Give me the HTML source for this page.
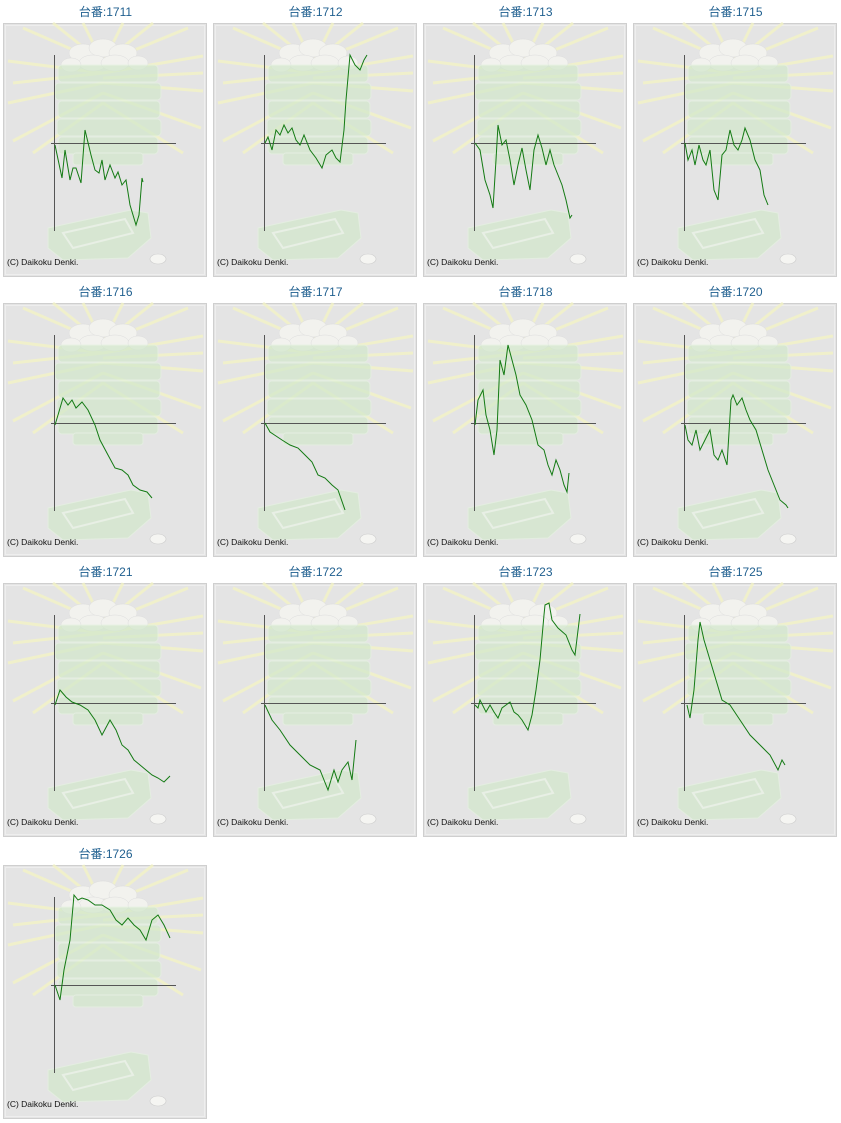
<!DOCTYPE html>
<html><head><meta charset="utf-8"><style>
body{margin:0;background:#fff;width:841px;height:1123px;position:relative;overflow:hidden;font-family:"Liberation Sans","Noto Sans CJK JP",sans-serif}
.t{position:absolute;width:205px;text-align:center;font-size:12px;color:#1f5f8f;line-height:14px}
svg.p{position:absolute;left:0;top:0}
</style></head><body>
<svg width="0" height="0" style="position:absolute">
<defs>
<symbol id="bg" overflow="visible">
<rect x="0.5" y="0.5" width="203" height="253" fill="#e4e4e4" stroke="#cfcfcf"/>
<rect x="2.5" y="2.5" width="199" height="249" fill="none" stroke="#eeeeee"/>
<g stroke="#f3f3c6" stroke-width="3" opacity="0.8">
<line x1="100" y1="40" x2="20" y2="5"/><line x1="100" y1="40" x2="50" y2="0"/><line x1="100" y1="40" x2="80" y2="0"/>
<line x1="100" y1="40" x2="120" y2="0"/><line x1="100" y1="40" x2="150" y2="0"/><line x1="100" y1="40" x2="185" y2="5"/>
<line x1="100" y1="50" x2="5" y2="38"/><line x1="100" y1="60" x2="5" y2="80"/><line x1="100" y1="70" x2="10" y2="118"/>
<line x1="100" y1="80" x2="30" y2="130"/><line x1="100" y1="50" x2="200" y2="33"/><line x1="100" y1="60" x2="200" y2="68"/>
<line x1="100" y1="70" x2="198" y2="105"/><line x1="100" y1="80" x2="180" y2="130"/><line x1="100" y1="50" x2="10" y2="60"/><line x1="100" y1="55" x2="200" y2="50"/>
</g>
<g fill="#f2f2ee" stroke="#ddd" stroke-width="0.5">
<ellipse cx="80" cy="30" rx="14" ry="9"/><ellipse cx="100" cy="25" rx="14" ry="9"/><ellipse cx="120" cy="30" rx="14" ry="9"/>
<ellipse cx="90" cy="40" rx="14" ry="8"/><ellipse cx="112" cy="40" rx="14" ry="8"/><ellipse cx="135" cy="40" rx="10" ry="7"/><ellipse cx="68" cy="42" rx="10" ry="7"/>
</g>
<g fill="#d2e8cb" stroke="#e4f2e0" opacity="0.7">
<rect x="55" y="42" width="100" height="17" rx="4"/><rect x="52" y="60" width="106" height="17" rx="4"/>
<rect x="55" y="78" width="102" height="17" rx="4"/><rect x="54" y="96" width="104" height="17" rx="4"/>
<rect x="55" y="114" width="100" height="17" rx="4"/><rect x="70" y="130" width="70" height="12" rx="3"/>
<path d="M45 205 L128 187 L145 190 L148 215 L125 235 L60 237 L45 225Z"/>
<path d="M60 210 L122 196 L130 210 L70 225Z" fill="none" stroke="#eaf5e6" stroke-width="2"/>
</g>
<ellipse cx="155" cy="236" rx="8" ry="5" fill="#f5f5f2" stroke="#ccc" stroke-width="0.6"/>
<g stroke="#555" stroke-width="1">
<line x1="51.5" y1="32" x2="51.5" y2="208"/><line x1="48" y1="120.5" x2="173" y2="120.5"/>
</g>
</symbol>
</defs></svg>

<div class="t" style="left:3px;top:5px">台番:1711</div>
<div class="t" style="left:213px;top:5px">台番:1712</div>
<div class="t" style="left:423px;top:5px">台番:1713</div>
<div class="t" style="left:633px;top:5px">台番:1715</div>
<div class="t" style="left:3px;top:285px">台番:1716</div>
<div class="t" style="left:213px;top:285px">台番:1717</div>
<div class="t" style="left:423px;top:285px">台番:1718</div>
<div class="t" style="left:633px;top:285px">台番:1720</div>
<div class="t" style="left:3px;top:565px">台番:1721</div>
<div class="t" style="left:213px;top:565px">台番:1722</div>
<div class="t" style="left:423px;top:565px">台番:1723</div>
<div class="t" style="left:633px;top:565px">台番:1725</div>
<div class="t" style="left:3px;top:847px">台番:1726</div>

<svg class="p" width="841" height="1123" viewBox="0 0 841 1123">
<g font-family="Liberation Sans, sans-serif" font-size="8.5" fill="#111">
<use href="#bg" x="3" y="23"/><use href="#bg" x="213" y="23"/><use href="#bg" x="423" y="23"/><use href="#bg" x="633" y="23"/>
<use href="#bg" x="3" y="303"/><use href="#bg" x="213" y="303"/><use href="#bg" x="423" y="303"/><use href="#bg" x="633" y="303"/>
<use href="#bg" x="3" y="583"/><use href="#bg" x="213" y="583"/><use href="#bg" x="423" y="583"/><use href="#bg" x="633" y="583"/>
<use href="#bg" x="3" y="865"/>
<text x="7" y="265">(C) Daikoku Denki.</text><text x="217" y="265">(C) Daikoku Denki.</text><text x="427" y="265">(C) Daikoku Denki.</text><text x="637" y="265">(C) Daikoku Denki.</text>
<text x="7" y="545">(C) Daikoku Denki.</text><text x="217" y="545">(C) Daikoku Denki.</text><text x="427" y="545">(C) Daikoku Denki.</text><text x="637" y="545">(C) Daikoku Denki.</text>
<text x="7" y="825">(C) Daikoku Denki.</text><text x="217" y="825">(C) Daikoku Denki.</text><text x="427" y="825">(C) Daikoku Denki.</text><text x="637" y="825">(C) Daikoku Denki.</text>
<text x="7" y="1107">(C) Daikoku Denki.</text>
</g>
<g fill="none" stroke="#137a13" stroke-width="1">
<polyline points="55,145 62,178 65,150 70,180 73,168 76,168 81,183 85,130 91,155 95,170 99,173 102,160 105,180 110,165 115,178 118,172 122,185 126,180 130,205 136,225 139,215 142,178 143,182"/>
<polyline points="265,143 268,137 272,150 276,130 280,135 284,125 288,133 292,128 296,140 300,145 304,135 310,150 316,158 322,168 326,155 332,150 336,158 340,162 344,130 346,100 350,55 355,65 360,70 364,60 367,55"/>
<polyline points="475,143 480,150 485,180 490,195 493,208 496,160 498,125 502,145 506,140 510,160 514,185 518,165 522,148 526,170 530,190 534,150 538,135 542,148 546,165 550,150 554,165 558,175 562,185 566,200 570,218 572,215"/>
<polyline points="685,143 688,160 692,150 695,165 699,145 703,160 706,165 710,150 714,190 718,200 722,155 726,150 730,130 734,145 738,150 742,140 745,128 750,140 755,160 760,170 764,195 768,205"/>
<polyline points="55,425 58,415 63,398 68,405 72,400 76,408 82,402 88,410 95,425 100,440 108,455 115,468 122,470 128,475 133,485 140,490 147,492 152,498"/>
<polyline points="265,423 270,432 276,436 282,440 290,445 298,448 306,456 312,462 318,475 325,478 332,485 338,490 345,510"/>
<polyline points="475,425 478,400 483,390 486,415 490,430 494,455 497,430 500,360 504,375 508,345 512,360 516,375 520,395 526,405 532,420 538,445 544,450 548,465 552,475 556,460 560,470 564,485 567,492 569,473"/>
<polyline points="685,425 688,440 692,445 696,430 700,450 705,440 710,430 714,455 718,460 722,450 727,465 731,400 733,395 737,405 742,398 746,410 750,420 756,430 762,450 768,470 774,485 780,500 786,505 788,508"/>
<polyline points="55,705 60,690 66,697 72,702 80,705 88,710 95,720 102,735 110,720 116,730 122,745 128,750 134,760 140,765 146,770 152,775 158,778 164,782 170,776"/>
<polyline points="265,705 272,720 280,730 290,745 300,755 310,765 320,770 328,790 334,770 338,782 342,770 348,762 352,780 356,740"/>
<polyline points="475,705 478,708 480,700 486,712 490,705 494,712 498,718 502,708 506,705 510,702 514,712 518,715 522,720 528,730 532,715 536,690 540,660 544,615 545,605 549,603 552,620 558,628 566,635 572,650 575,655 580,614"/>
<polyline points="687,705 690,718 694,690 698,640 700,622 704,640 710,660 716,680 722,700 730,705 740,720 750,735 760,745 770,755 778,770 782,760 785,765"/>
<polyline points="55,985 60,1000 64,970 70,940 74,895 78,900 82,898 88,900 95,905 102,905 110,910 116,920 122,925 128,918 134,925 140,930 146,940 152,920 158,915 164,925 170,938"/>
</g>
</svg>
</body></html>
